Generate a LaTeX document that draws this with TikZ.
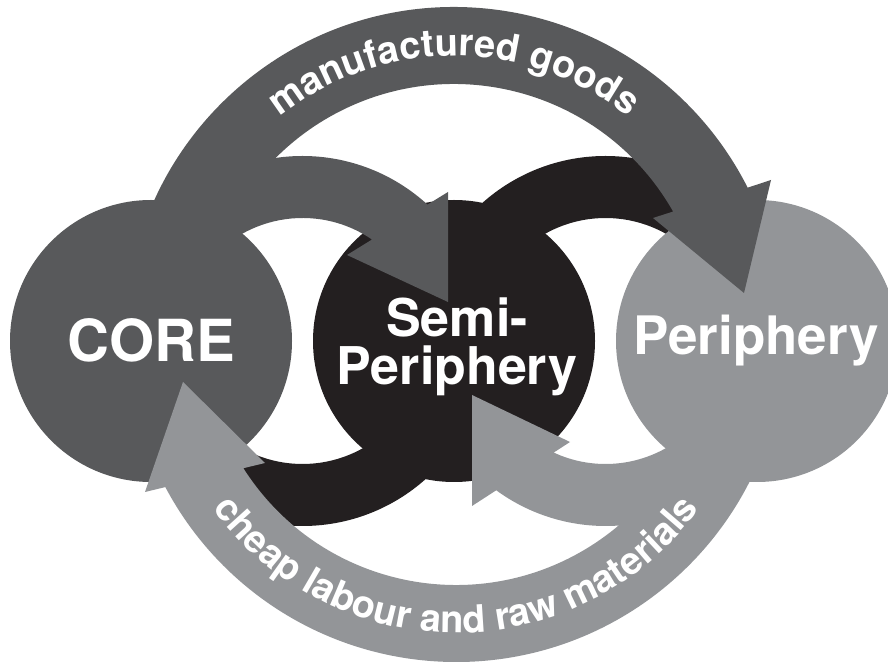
\documentclass[tikz,border=0pt]{standalone}
\usepackage{fontspec}
\setmainfont{TeX Gyre Heros}
\usetikzlibrary{calc,decorations.text}
\definecolor{dkgray}{HTML}{58595B}
\definecolor{blk}{HTML}{231F20}
\definecolor{ltgray}{HTML}{939598}
\newcommand\wsArcFont{\fontsize{38}{38}\selectfont\bfseries\color{white}}
\begin{document}
\begin{tikzpicture}[x=1pt,y=1pt,
  blob/.style={circle, inner sep=0pt, minimum size=282pt},
  bigtext/.style={font=\fontsize{58}{58}\selectfont\bfseries, text=white, anchor=base, inner sep=0pt},
  midtext/.style={font=\fontsize{52}{52}\selectfont\bfseries, text=white, anchor=base, inner sep=0pt}]
\useasboundingbox (0,0) rectangle (888,661);
\clip (0,0) rectangle (888,661);
\coordinate (T) at (454,325);
\coordinate (U) at (456,328);
\coordinate (A) at (302.5,320);
\coordinate (B) at (605.5,320);
% black flows (mostly hidden)
\fill[blk] ($(B)+(180:185)$) arc[start angle=180, end angle=45, radius=185]
  -- ($(B)+(45:123)$) arc[start angle=45, end angle=180, radius=123] -- cycle;
\fill[blk] ($(A)+(0:185)$) arc[start angle=0, end angle=-135, radius=185]
  -- ($(A)+(-135:123)$) arc[start angle=-135, end angle=0, radius=123] -- cycle;
% circles
\node[blob, fill=dkgray] (core) at (151,320) {};
\node[blob, fill=blk] (semi) at (454,320) {};
\node[blob, fill=ltgray] (peri) at (757,320) {};
% small arrows
\fill[dkgray] ($(A)+(180:185)$) arc[start angle=180, end angle=47.5, radius=185]
  -- (448,469) -- (448,359) -- (347,406)
  -- ($(A)+(55.6:123)$) arc[start angle=55.6, end angle=180, radius=123] -- cycle;
\fill[ltgray] ($(B)+(0:185)$) arc[start angle=0, end angle=-126.2, radius=185]
  -- (472,155) -- (472,266) -- (570,219)
  -- ($(B)+(-114.9:123)$) arc[start angle=-114.9, end angle=0, radius=123] -- cycle;
% big arrows
\fill[dkgray] ($(T)+(175:329)$) arc[start angle=175, end angle=26.8, radius=329]
  -- (771,481) -- (744,368) -- (653,443)
  -- ($(T)+(29.6:252)$) arc[start angle=29.6, end angle=175, radius=252] -- cycle;
\fill[ltgray] ($(U)+(-5:329)$) arc[start angle=-5, end angle=-152.07, radius=329]
  -- (145,169) -- (183,279) -- (265,198)
  -- ($(U)+(-147.55:252)$) arc[start angle=-147.55, end angle=-5, radius=252] -- cycle;
% arc texts
\path[decorate, decoration={text along path, text align=center,
  text={|\wsArcFont|manufactured goods}}]
  ($(T)+(160:280)$) arc[start angle=160, end angle=20, radius=280];
\path[decorate, decoration={text along path, text align=center,
  text={|\wsArcFont|cheap labour and raw materials}}]
  ($(U)+(195:300)$) arc[start angle=195, end angle=345, radius=300];
% labels
\node[bigtext] (coretext) at (151,299) {CORE};
\node[midtext] (semitext1) at (457,324) {Semi-};
\node[midtext] (semitext2) at (457,276) {Periphery};
\node[midtext, font=\fontsize{53}{53}\selectfont\bfseries] (peritext) at (756,306) {Periphery};
\end{tikzpicture}
\end{document}
